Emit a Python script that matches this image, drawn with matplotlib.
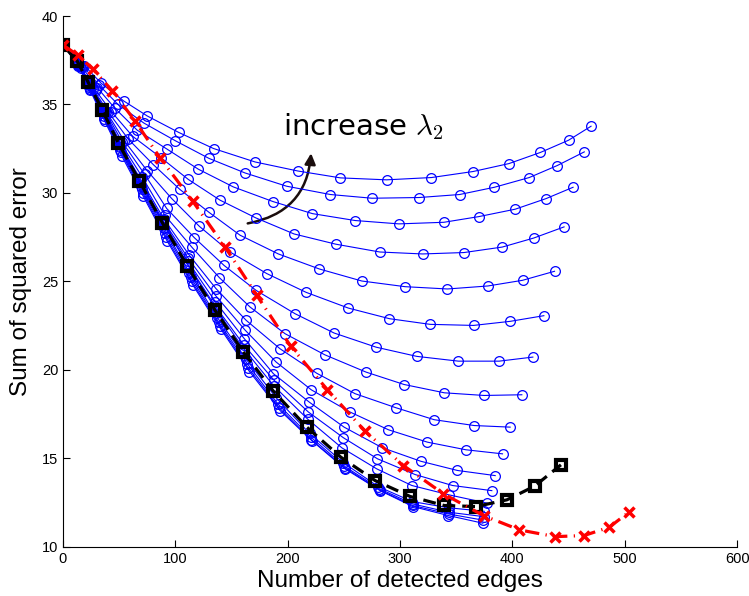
import matplotlib
matplotlib.use('Agg')
import matplotlib.pyplot as plt
from matplotlib.patches import FancyArrowPatch

# blue curves, one per lambda_2 value (bottom to top)
edges_01 = [0, 13.6, 24.2, 37.2, 52.2, 71.5, 92.5, 115.5, 140.5, 166, 193.2, 221.4, 251.1, 282.3, 311.4, 343.1, 373.7]
sse_01 = [38.4, 37.2, 35.8, 34.05, 32.1, 29.8, 27.3, 24.8, 22.3, 19.9, 17.7, 16.0, 14.4, 13.17, 12.27, 11.76, 11.33]
edges_02 = [0, 13.4, 23.8, 36.8, 51.6, 70.8, 91.8, 114.5, 139.5, 165, 192.5, 221, 251, 282, 311.3, 343.2, 374]
sse_02 = [38.4, 37.25, 35.9, 34.2, 32.3, 30.0, 27.5, 25.0, 22.5, 20.1, 17.85, 16.05, 14.45, 13.2, 12.33, 11.85, 11.5]
edges_03 = [0, 13.2, 23.4, 36.3, 51, 70, 91, 113.5, 138.5, 164, 191.5, 220.5, 250.5, 281.5, 311.2, 343.3, 374.5]
sse_03 = [38.4, 37.3, 36.0, 34.35, 32.45, 30.2, 27.75, 25.25, 22.7, 20.35, 18.05, 16.2, 14.55, 13.28, 12.42, 11.95, 11.7]
edges_04 = [0, 13, 23, 35.8, 50.3, 69.3, 90, 112.5, 137.5, 163, 190, 219.5, 249.5, 280.5, 311, 343.5, 375]
sse_04 = [38.4, 37.35, 36.1, 34.5, 32.6, 30.4, 28.0, 25.5, 22.95, 20.6, 18.4, 16.4, 14.75, 13.4, 12.55, 12.2, 12.0]
edges_05 = [0, 12.7, 22.5, 35, 49.2, 67.9, 88.4, 110.7, 135.4, 160.8, 187.5, 218, 248.2, 279.3, 310.5, 343.7, 377.8]
sse_05 = [38.4, 37.45, 36.25, 34.68, 32.83, 30.68, 28.33, 25.95, 23.5, 21.2, 19.1, 17.2, 15.59, 14.4, 13.46, 12.93, 12.46]
edges_06 = [0, 12.7, 22.5, 35, 49.2, 67.9, 88.4, 110.8, 135.5, 161, 188, 218.5, 249.6, 279.9, 313.4, 346.7, 381.7]
sse_06 = [38.4, 37.45, 36.25, 34.68, 32.83, 30.69, 28.36, 26.0, 23.6, 21.4, 19.4, 17.61, 16.16, 14.97, 14.08, 13.46, 13.17]
edges_07 = [0, 12.7, 22.6, 35.2, 49.3, 68, 88.6, 111, 135.6, 161.5, 187.3, 219.3, 250.2, 284, 318.5, 351.1, 384.7]
sse_07 = [38.4, 37.45, 36.24, 34.68, 32.83, 30.7, 28.4, 26.15, 23.85, 21.75, 19.78, 18.17, 16.76, 15.6, 14.83, 14.31, 14.02]
edges_08 = [0, 12.8, 22.8, 35.4, 49.6, 68.4, 89, 111.5, 135.8, 162, 189.7, 221, 255.6, 289.7, 324.4, 358.6, 391.2]
sse_08 = [38.4, 37.43, 36.22, 34.67, 32.84, 30.74, 28.45, 26.3, 24.2, 22.25, 20.44, 18.87, 17.61, 16.61, 15.91, 15.48, 15.25]
edges_09 = [0, 12.9, 23, 35.8, 50, 69, 89.6, 112.5, 136.2, 163, 193.2, 226, 260, 296.2, 330.4, 366, 398]
sse_09 = [38.4, 37.42, 36.2, 34.66, 32.84, 30.78, 28.55, 26.47, 24.59, 22.8, 21.19, 19.8, 18.65, 17.86, 17.18, 16.85, 16.76]
edges_10 = [0, 13.3, 23.5, 36.5, 51, 70.5, 90.5, 114.6, 139.2, 166.5, 197.7, 233, 269.8, 303.6, 339.5, 374.9, 408.4]
sse_10 = [38.4, 37.38, 36.15, 34.64, 32.86, 30.9, 28.75, 26.94, 25.21, 23.55, 22.04, 20.85, 19.87, 19.17, 18.7, 18.55, 18.59]
edges_11 = [0, 13.6, 24, 37.5, 52.5, 72.7, 92.3, 116.9, 143.4, 171.9, 206.6, 241.3, 278.7, 314.9, 352, 388.2, 418.2]
sse_11 = [38.4, 37.35, 36.1, 34.62, 32.9, 31.05, 29.12, 27.47, 25.9, 24.49, 23.17, 22.08, 21.28, 20.76, 20.49, 20.49, 20.72]
edges_12 = [0, 14, 24.7, 38.5, 54.5, 75, 96.8, 121.4, 148.7, 181.4, 216.4, 254, 290.6, 326.8, 365.4, 398, 428]
sse_12 = [38.4, 37.3, 36.05, 34.6, 32.95, 31.25, 29.68, 28.11, 26.66, 25.44, 24.38, 23.49, 22.89, 22.57, 22.51, 22.74, 23.06]
edges_13 = [0, 15, 26.5, 40, 58, 80.4, 104, 130, 157.6, 191.7, 228.2, 266, 304.5, 342.2, 378.2, 409, 437.5]
sse_13 = [38.4, 37.15, 35.9, 34.6, 33.05, 31.6, 30.2, 28.9, 27.61, 26.55, 25.7, 25.02, 24.7, 24.57, 24.74, 25.06, 25.57]
edges_14 = [0, 16, 29, 43, 62, 87, 111.6, 139.8, 171.6, 205.7, 243, 282, 320, 357, 391, 419, 446]
sse_14 = [38.4, 37.05, 35.8, 34.6, 33.2, 32.0, 30.76, 29.59, 28.59, 27.68, 27.1, 26.66, 26.55, 26.63, 26.94, 27.45, 28.08]
edges_15 = [0, 17, 30.5, 46, 66, 93, 120.5, 151.6, 187, 222, 260, 299, 339, 370, 402.5, 430, 454]
sse_15 = [38.4, 37.1, 35.95, 34.8, 33.55, 32.46, 31.34, 30.34, 29.51, 28.83, 28.44, 28.25, 28.34, 28.66, 29.08, 29.68, 30.32]
edges_16 = [0, 18, 32, 49, 72, 100, 130, 162, 199, 238, 275, 317, 353, 384, 415, 440, 464]
sse_16 = [38.4, 37.15, 36.1, 35.0, 33.95, 32.95, 31.95, 31.13, 30.38, 29.91, 29.7, 29.74, 29.91, 30.32, 30.87, 31.55, 32.32]
edges_17 = [0, 19, 34, 54, 75, 103, 134, 171, 209, 247, 288, 328, 365, 397, 425, 450, 470]
sse_17 = [38.4, 37.2, 36.2, 35.2, 34.35, 33.42, 32.51, 31.75, 31.24, 30.85, 30.74, 30.87, 31.21, 31.66, 32.29, 32.98, 33.77]

# black squares (dashed)
black_edges = [0, 12.7, 22.5, 35, 49.2, 67.9, 88.4, 110.7, 135.4, 160.6, 187.3, 217, 247.3, 277.8, 309, 339.3, 367.5, 395.1, 419.7, 443.2]
black_sse = [38.35, 37.45, 36.25, 34.68, 32.83, 30.68, 28.32, 25.85, 23.36, 21.0, 18.79, 16.76, 15.06, 13.74, 12.84, 12.33, 12.27, 12.65, 13.42, 14.63]

# red crosses (dash-dot)
red_edges = [0.3, 13.1, 27.0, 43.9, 64.1, 86.4, 115.5, 144.3, 172.5, 202.8, 235.4, 268.9, 303, 338.6, 374.3, 406.3, 438.1, 463.7, 486.2, 504]
red_sse = [38.35, 37.79, 36.98, 35.77, 34.07, 31.98, 29.53, 26.94, 24.21, 21.32, 18.87, 16.53, 14.59, 12.99, 11.76, 10.95, 10.57, 10.63, 11.1, 11.97]

blue_edges = [edges_01, edges_02, edges_03, edges_04, edges_05, edges_06, edges_07, edges_08, edges_09,
              edges_10, edges_11, edges_12, edges_13, edges_14, edges_15, edges_16, edges_17]
blue_sse = [sse_01, sse_02, sse_03, sse_04, sse_05, sse_06, sse_07, sse_08, sse_09,
            sse_10, sse_11, sse_12, sse_13, sse_14, sse_15, sse_16, sse_17]

plt.rcParams['font.family'] = ['Liberation Sans', 'DejaVu Sans']
plt.rcParams['mathtext.fontset'] = 'cm'

fig = plt.figure(figsize=(7.49, 5.96), dpi=100)
ax = fig.add_axes([0.0841, 0.0827, 0.90, 0.8904])

for xs, ys in zip(blue_edges, blue_sse):
    ax.plot(xs, ys, '-o', color='#0000ff', lw=0.8, ms=7, mfc='none', mew=0.9)

ax.plot(black_edges, black_sse, '--s', color='black', lw=2.3, ms=6.5, mfc='none', mew=3,
        dashes=(4, 2.2))
ax.plot(red_edges, red_sse, '-.x', color='red', lw=2.3, ms=6.5, mew=2.5,
        dashes=(4.5, 2, 0.4, 2))

# annotation
ax.text(196, 33.25, r'increase $\lambda_2$', fontsize=21, family='DejaVu Sans',
        ha='left', va='baseline')
arrow = FancyArrowPatch((162, 28.25), (221, 32.4), connectionstyle='arc3,rad=0.4',
                        arrowstyle='-|>', mutation_scale=16, lw=1.8, color='#1a0d0d')
ax.add_patch(arrow)

ax.set_xlim(0, 600)
ax.set_ylim(10, 40)
ax.set_xticks(range(0, 601, 100))
ax.set_yticks(range(10, 41, 5))
ax.spines['top'].set_visible(False)
ax.spines['right'].set_visible(False)
ax.tick_params(direction='in', length=5, labelsize=10.5)
ax.set_xlabel('Number of detected edges', fontsize=17.5, labelpad=3)
ax.set_ylabel('Sum of squared error', fontsize=17.5, labelpad=7)

fig.savefig('out.png', dpi=100)
